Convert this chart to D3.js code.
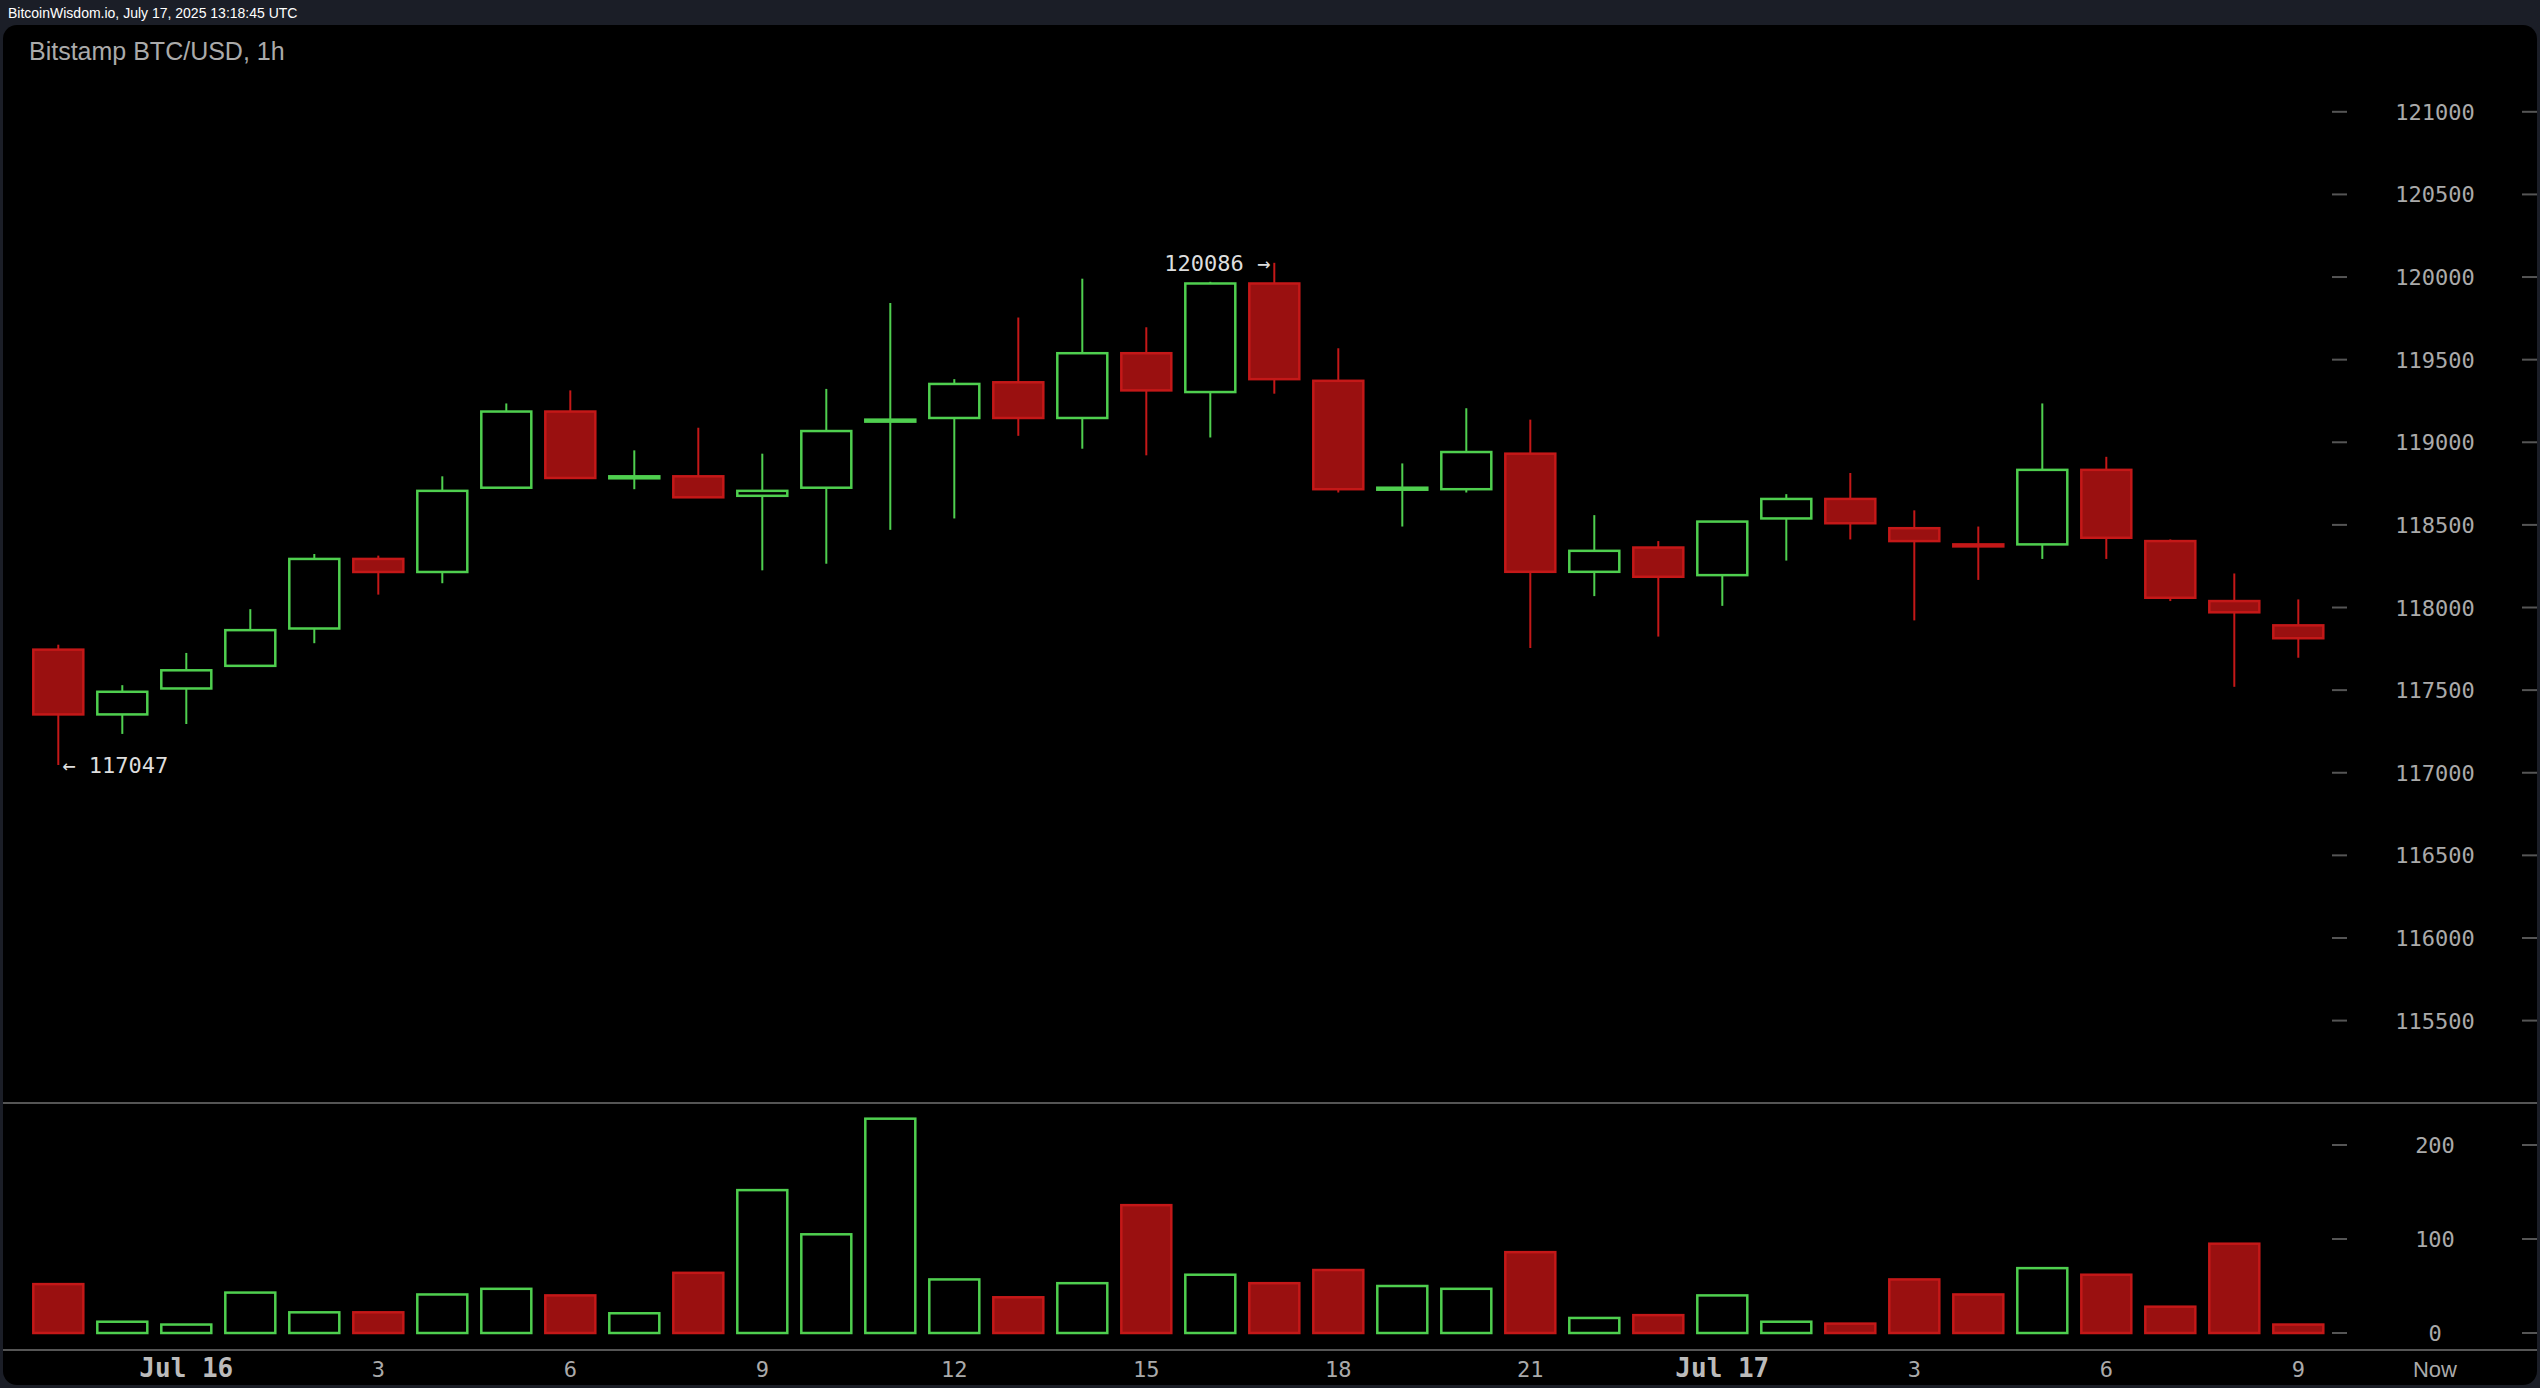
<!DOCTYPE html>
<html><head><meta charset="utf-8">
<script src="https://cdn.jsdelivr.net/npm/d3@7"></script>
<style>body{margin:0;background:#1b1e27;overflow:hidden}</style>
</head><body>
<svg id="c" width="2540" height="1388"></svg>
<script>
// OHLCV, hourly, Jul 15 22:00 .. Jul 17 09:00
const opens  = [117745,117353,117510,117647,117873,118294,118215,118725,119186,118784,118794,118676,118725,119127,119147,119363,119147,119539,119304,119961,119372,118716,118716,118931,118216,118363,118196,118539,118657,118480,118382,118382,118833,118402,118039,117892]
const highs  = [117775,117530,117725,117990,118324,118314,118794,119235,119314,118951,119088,118931,119323,119843,119382,119755,119990,119696,119971,120086,119569,118872,119206,119137,118559,118402,118520,118686,118814,118588,118490,119235,118912,118412,118206,118049]
const lows   = [117047,117235,117295,117784,117784,118078,118147,118725,118784,118716,118667,118225,118265,118470,118539,119039,118961,118921,119029,119294,118696,118490,118696,117755,118069,117824,118010,118284,118412,117922,118167,118294,118294,118039,117520,117696]
const closes = [117353,117490,117620,117863,118294,118215,118706,119186,118784,118794,118667,118706,119068,119137,119353,119147,119539,119314,119961,119382,118716,118725,118941,118216,118343,118186,118520,118657,118510,118402,118381,118833,118422,118059,117971,117814]
const volumes = [52,12,9,43,22,22,41,47,40,21,64,152,105,228,57,38,53,136,62,53,67,50,47,86,16,19,40,12,10,57,41,69,62,28,95,9]
const priceTicks = [115500,116000,116500,117000,117500,118000,118500,119000,119500,120000,120500,121000]
const volTicks = [0,100,200]
const timeLabels = [[2,'Jul 16'],[5,'3'],[8,'6'],[11,'9'],[14,'12'],[17,'15'],[20,'18'],[23,'21'],[26,'Jul 17'],[29,'3'],[32,'6'],[35,'9']]

const svg = d3.select('#c')
const green = '#4fcf4f', red = '#c41818', redFill = '#9a1010'
const mono = 'DejaVu Sans Mono'

svg.append('text').attr('x',8).attr('y',18).attr('fill','#fff')
  .attr('font-family','Liberation Sans').attr('font-size',14).text('BitcoinWisdom.io, July 17, 2025 13:18:45 UTC')
svg.append('rect').attr('x',3).attr('y',25).attr('width',2534).attr('height',1360).attr('rx',14).attr('fill','#000')
svg.append('text').attr('x',29).attr('y',60).attr('fill','#aaa')
  .attr('font-family','Liberation Sans').attr('font-size',25).text('Bitstamp BTC/USD, 1h')

const x = d3.scaleLinear().domain([0,1]).range([58.3,122.3])
const y = d3.scaleLinear().domain([115500,121000]).range([1020.6,111.8])
const yv = d3.scaleLinear().domain([0,200]).range([1333,1145])

// separators
svg.append('line').attr('x1',3).attr('x2',2537).attr('y1',1103).attr('y2',1103).attr('stroke','#555').attr('stroke-width',2)
svg.append('line').attr('x1',3).attr('x2',2537).attr('y1',1350).attr('y2',1350).attr('stroke','#555').attr('stroke-width',2)

// price axis
const pa = svg.append('g')
priceTicks.forEach(t => {
  pa.append('line').attr('x1',2332).attr('x2',2347).attr('y1',y(t)).attr('y2',y(t)).attr('stroke','#555').attr('stroke-width',2)
  pa.append('line').attr('x1',2522).attr('x2',2537).attr('y1',y(t)).attr('y2',y(t)).attr('stroke','#555').attr('stroke-width',2)
  pa.append('text').attr('x',2435).attr('y',y(t)+8).attr('text-anchor','middle').attr('fill','#aaa')
    .attr('font-family',mono).attr('font-size',22).text(t)
})
volTicks.forEach(t => {
  pa.append('line').attr('x1',2332).attr('x2',2347).attr('y1',yv(t)).attr('y2',yv(t)).attr('stroke','#555').attr('stroke-width',2)
  pa.append('line').attr('x1',2522).attr('x2',2537).attr('y1',yv(t)).attr('y2',yv(t)).attr('stroke','#555').attr('stroke-width',2)
  pa.append('text').attr('x',2435).attr('y',yv(t)+8).attr('text-anchor','middle').attr('fill','#aaa')
    .attr('font-family',mono).attr('font-size',22).text(t)
})

// time axis
timeLabels.forEach(([i,l]) => {
  const big = l.startsWith('Jul')
  svg.append('text').attr('x',x(i)).attr('y',1377).attr('text-anchor','middle')
    .attr('fill', big ? '#bbb' : '#aaa').attr('font-family',mono).attr('font-size', big ? 26 : 22)
    .attr('font-weight', big ? 'bold' : 'normal').text(l)
})
svg.append('text').attr('x',2435).attr('y',1377).attr('text-anchor','middle').attr('fill','#aaa')
  .attr('font-family','Liberation Sans').attr('font-size',22).text('Now')

const data = opens.map((o,i) => ({i, o, h:highs[i], l:lows[i], c:closes[i], v:volumes[i], up: closes[i] > o}))
const bw = 50
const g = svg.append('g')
g.selectAll('line.w').data(data).enter().append('line')
  .attr('x1',d=>x(d.i)).attr('x2',d=>x(d.i)).attr('y1',d=>y(d.h)).attr('y2',d=>y(d.l))
  .attr('stroke',d=>d.up?green:red).attr('stroke-width',2)
g.selectAll('rect.b').data(data).enter().append('rect')
  .attr('x',d=>x(d.i)-bw/2).attr('width',bw)
  .attr('y',d=>y(Math.max(d.o,d.c))).attr('height',d=>Math.max(2,Math.abs(y(d.o)-y(d.c))))
  .attr('fill',d=>d.up?'#000':redFill).attr('stroke',d=>d.up?green:red).attr('stroke-width',2.5)
g.selectAll('rect.v').data(data).enter().append('rect')
  .attr('x',d=>x(d.i)-bw/2).attr('width',bw)
  .attr('y',d=>yv(d.v)).attr('height',d=>yv(0)-yv(d.v))
  .attr('fill',d=>d.up?'#000':redFill).attr('stroke',d=>d.up?green:red).attr('stroke-width',2.5)

// high / low marks
const lo = d3.minIndex(lows), hi = d3.maxIndex(highs)
svg.append('text').attr('x',x(lo)+4).attr('y',y(lows[lo])+8).attr('fill','#ddd')
  .attr('font-family',mono).attr('font-size',22).text('← ' + lows[lo])
svg.append('text').attr('x',x(hi)-4).attr('y',y(highs[hi])+8).attr('text-anchor','end').attr('fill','#ddd')
  .attr('font-family',mono).attr('font-size',22).text(highs[hi] + ' →')
</script>
</body></html>
